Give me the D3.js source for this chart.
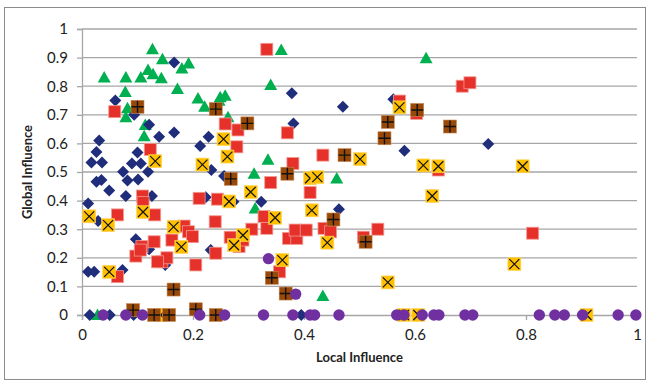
<!DOCTYPE html>
<html>
<head>
<meta charset="utf-8">
<script src="https://cdn.jsdelivr.net/npm/d3@7"></script>
<style>
  body { margin: 0; background: #fff; }
  text { font-family: Lato, "Liberation Sans", sans-serif; fill: #222; }
</style>
</head>
<body>
<div id="chart"></div>
<script>
// series data: [local influence, global influence]
var diamonds = [
  [0.06,0.75],[0.094,0.70],[0.121,0.665],[0.031,0.61],[0.026,0.57],[0.017,0.533],[0.036,0.533],
  [0.166,0.883],[0.139,0.623],[0.166,0.638],[0.213,0.591],[0.228,0.623],[0.233,0.507],[0.1,0.568],
  [0.09,0.53],[0.074,0.501],[0.106,0.53],[0.119,0.501],[0.011,0.39],[0.026,0.466],[0.035,0.472],
  [0.049,0.435],[0.082,0.47],[0.101,0.474],[0.079,0.416],[0.126,0.416],[0.029,0.329],[0.097,0.265],
  [0.121,0.23],[0.011,0.151],[0.022,0.151],[0.073,0.157],[0.15,0.175],[0.232,0.227],[0.223,0.412],
  [0.256,0.486],[0.273,0.396],[0.323,0.396],[0.463,0.37],[0.378,0.775],[0.47,0.728],[0.561,0.754],
  [0.381,0.67],[0.581,0.574],[0.732,0.598],[0.014,0],[0.05,0],[0.093,0],[0.395,0]
];
var squares = [
  [0.059,0.711],[0.123,0.579],[0.333,0.929],[0.258,0.668],[0.281,0.647],[0.279,0.588],[0.37,0.637],
  [0.434,0.559],[0.38,0.53],[0.603,0.705],[0.572,0.748],[0.685,0.80],[0.699,0.812],[0.642,0.507],
  [0.812,0.286],[0.064,0.35],[0.109,0.416],[0.11,0.393],[0.131,0.35],[0.097,0.206],[0.108,0.239],
  [0.13,0.256],[0.144,0.186],[0.153,0.20],[0.064,0.134],[0.162,0.262],[0.168,0.309],[0.184,0.311],
  [0.192,0.291],[0.199,0.274],[0.205,0.175],[0.211,0.408],[0.24,0.326],[0.241,0.216],[0.244,0.405],
  [0.34,0.463],[0.411,0.428],[0.328,0.344],[0.333,0.303],[0.306,0.30],[0.372,0.268],[0.387,0.268],
  [0.384,0.297],[0.404,0.297],[0.436,0.303],[0.448,0.291],[0.507,0.272],[0.533,0.30],[0.356,0.151],
  [0.267,0.272],[0.283,0.239],[0.29,0.262],[0.105,0.227],[0.136,0.186]
];
var triangles = [
  [0.04,0.83],[0.079,0.83],[0.078,0.78],[0.106,0.83],[0.127,0.929],[0.119,0.857],[0.128,0.842],
  [0.143,0.828],[0.145,0.894],[0.172,0.79],[0.18,0.862],[0.192,0.879],[0.209,0.757],[0.221,0.728],
  [0.082,0.723],[0.079,0.691],[0.114,0.664],[0.112,0.625],[0.247,0.749],[0.249,0.761],[0.258,0.767],
  [0.263,0.691],[0.34,0.804],[0.359,0.927],[0.62,0.898],[0.335,0.543],[0.31,0.494],[0.459,0.477],
  [0.312,0.372],[0.434,0.066],[0.028,0]
];
var crosses = [
  [0.132,0.538],[0.217,0.526],[0.572,0.726],[0.255,0.615],[0.262,0.554],[0.501,0.545],[0.411,0.478],
  [0.424,0.482],[0.615,0.523],[0.642,0.52],[0.794,0.52],[0.631,0.416],[0.779,0.178],[0.304,0.43],
  [0.265,0.397],[0.414,0.366],[0.348,0.34],[0.29,0.279],[0.274,0.244],[0.442,0.253],[0.361,0.192],
  [0.551,0.114],[0.58,0],[0.606,0],[0.013,0.345],[0.047,0.314],[0.11,0.36],[0.049,0.151],
  [0.179,0.238],[0.165,0.308],[0.142,0],[0.909,0]
];
var pluses = [
  [0.1,0.728],[0.241,0.72],[0.298,0.67],[0.551,0.675],[0.545,0.618],[0.604,0.717],[0.473,0.559],
  [0.37,0.494],[0.268,0.476],[0.663,0.659],[0.453,0.334],[0.511,0.256],[0.342,0.13],[0.367,0.075],
  [0.165,0.089],[0.092,0.017],[0.205,0.02],[0.13,0],[0.157,0],[0.241,0]
];
var circles = [
  [0.038,0],[0.079,0],[0.109,0],[0.212,0],[0.257,0],[0.327,0],[0.38,0],[0.411,0],[0.419,0],
  [0.463,0],[0.567,0],[0.58,0],[0.613,0],[0.634,0],[0.643,0],[0.69,0],[0.704,0],[0.824,0],
  [0.852,0],[0.869,0],[0.902,0],[0.966,0],[0.998,0],[0.336,0.197],[0.385,0.073]
];
var xTicks = [0, 0.2, 0.4, 0.6, 0.8, 1];
var yTicks = [0, 0.1, 0.2, 0.3, 0.4, 0.5, 0.6, 0.7, 0.8, 0.9, 1];

var w = 650, h = 385;
var plotL = 82, plotR = 637, plotT = 29, plotB = 315;

var svg = d3.select("#chart").append("svg").attr("width", w).attr("height", h);

svg.append("rect")
  .attr("x", 4.5).attr("y", 7.5).attr("width", 641).attr("height", 372)
  .attr("fill", "none").attr("stroke", "#8c8c8c").attr("stroke-width", 1);

var x = d3.scaleLinear().domain([0, 1]).range([plotL, plotR]);
var y = d3.scaleLinear().domain([0, 1]).range([plotB, plotT]);

// gridlines
svg.append("g").selectAll("line").data(yTicks.slice(1)).enter().append("line")
  .attr("x1", plotL).attr("x2", plotR)
  .attr("y1", (d) => y(d)).attr("y2", (d) => y(d))
  .attr("stroke", "#a6a6a6").attr("stroke-width", 1.3);

var yAxis = svg.append("g").attr("transform", `translate(${plotL},0)`)
  .call(d3.axisLeft(y).tickValues(yTicks).tickFormat(d3.format("")).tickSize(5).tickPadding(9));
var xAxis = svg.append("g").attr("transform", `translate(0,${plotB})`)
  .call(d3.axisBottom(x).tickValues(xTicks).tickFormat(d3.format("")).tickSize(5).tickPadding(9));
[xAxis, yAxis].forEach((a) => {
  a.select(".domain").attr("stroke", "#a6a6a6").attr("stroke-width", 1.3);
  a.selectAll(".tick line").attr("stroke", "#a6a6a6").attr("stroke-width", 1.3);
  a.selectAll("text").style("font-family", "Lato, sans-serif").style("font-size", "15px").attr("fill", "#222");
});

svg.append("text")
  .attr("x", (plotL + plotR) / 2).attr("y", 362)
  .attr("text-anchor", "middle").style("font-size", "13px").style("font-weight", "bold")
  .text("Local Influence");
svg.append("text")
  .attr("transform", `translate(27,${(plotT + plotB) / 2}) rotate(-90)`)
  .attr("text-anchor", "middle").attr("dy", "0.35em").style("font-size", "13px").style("font-weight", "bold")
  .text("Global Influence");

var marks = svg.append("g");

function place(sel) {
  return sel.attr("transform", (d) => `translate(${x(d[0])},${y(d[1])})`);
}

// green triangles
place(marks.append("g").selectAll("path").data(triangles).enter().append("path"))
  .attr("d", "M0,-6.5L6.5,5L-6.5,5Z")
  .attr("fill", "#00b050");

// navy diamonds
place(marks.append("g").selectAll("path").data(diamonds).enter().append("path"))
  .attr("d", "M0,-6L6,0L0,6L-6,0Z")
  .attr("fill", "#1f2d7a");

// red squares
place(marks.append("g").selectAll("rect").data(squares).enter().append("rect"))
  .attr("x", -6).attr("y", -6).attr("width", 12).attr("height", 12)
  .attr("fill", "#e5312a").attr("stroke", "#f39a93").attr("stroke-width", 0.8);

// yellow squares with x
var yx = place(marks.append("g").selectAll("g").data(crosses).enter().append("g"));
yx.append("rect").attr("x", -6.5).attr("y", -6.5).attr("width", 13).attr("height", 13)
  .attr("fill", "#ffc000").attr("stroke", "#ffd560").attr("stroke-width", 0.6);
yx.append("path").attr("d", "M-5,-5L5,5M5,-5L-5,5")
  .attr("stroke", "#111").attr("stroke-width", 1.2);

// brown squares with plus
var bp = place(marks.append("g").selectAll("g").data(pluses).enter().append("g"));
bp.append("rect").attr("x", -6.5).attr("y", -6.5).attr("width", 13).attr("height", 13)
  .attr("fill", "#984807").attr("stroke", "#c88a5a").attr("stroke-width", 0.6);
bp.append("path").attr("d", "M0,-6L0,6M-6,0L6,0")
  .attr("stroke", "#111").attr("stroke-width", 1.4);

// purple circles
place(marks.append("g").selectAll("circle").data(circles).enter().append("circle"))
  .attr("r", 5.7)
  .attr("fill", "#7030a0");
</script>
</body>
</html>
